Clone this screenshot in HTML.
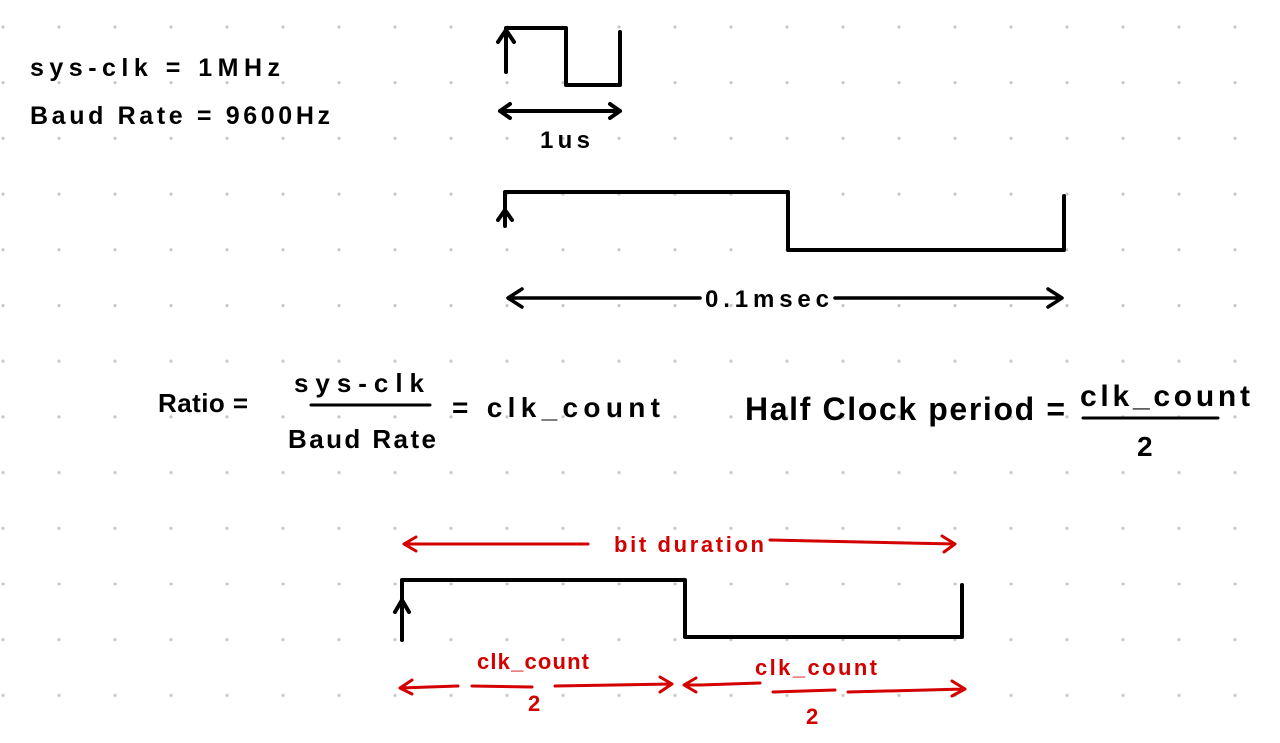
<!DOCTYPE html>
<html><head><style>
html,body{margin:0;padding:0;background:#fff;}
svg{display:block;}
text{font-family:"Liberation Sans",sans-serif;font-weight:bold;}
</style></head><body>
<svg width="1280" height="743" viewBox="0 0 1280 743" xmlns="http://www.w3.org/2000/svg">
<defs>
<pattern id="dots" x="3" y="27" width="56" height="55.7" patternUnits="userSpaceOnUse">
<circle cx="0" cy="0" r="1.6" fill="#c8c8c8"/><circle cx="56" cy="0" r="1.6" fill="#c8c8c8"/><circle cx="0" cy="55.7" r="1.6" fill="#c8c8c8"/><circle cx="56" cy="55.7" r="1.6" fill="#c8c8c8"/>
</pattern>
</defs>
<rect width="1280" height="743" fill="url(#dots)"/>
<g fill="#000" font-size="25">
<text x="30" y="76" textLength="250" lengthAdjust="spacing">sys-clk  =  1MHz</text>
<text x="30" y="124" textLength="300" lengthAdjust="spacing">Baud Rate = 9600Hz</text>
<text x="540" y="148" font-size="24" textLength="50" lengthAdjust="spacing">1us</text>
<text x="705" y="307" font-size="24" textLength="124" lengthAdjust="spacing">0.1msec</text>
<text x="158" y="412" font-size="26" textLength="90" lengthAdjust="spacing">Ratio  =</text>
<text x="294" y="392" font-size="26" textLength="130" lengthAdjust="spacing">sys-clk</text>
<text x="288" y="448" font-size="26" textLength="148" lengthAdjust="spacing">Baud Rate</text>
<text x="452" y="417" font-size="28" textLength="208" lengthAdjust="spacing">=  clk_count</text>
<text x="745" y="420" font-size="32" font-weight="normal" textLength="320" lengthAdjust="spacing">Half Clock period =</text>
<text x="1080" y="406" font-size="30" font-weight="normal" textLength="170" lengthAdjust="spacing">clk_count</text>
<text x="1137" y="456" font-size="28">2</text>
</g>
<g stroke="#000" stroke-width="4" fill="none" stroke-linecap="round" stroke-linejoin="round">
<path d="M506 72 L506 28 L566 28 L566 85 L620 85 L620 32"/>
<path d="M498 42 L506 30 L514 42"/>
<path d="M500 111 L620 111 M510 104 L500 111 L510 118 M610 104 L620 111 L610 118"/>
<path d="M505 226 L505 192 L788 192 L788 250 L1064 250 L1064 196"/>
<path d="M498 220 L505 210 L512 220"/>
<path d="M508 298 L700 298 M835 298 L1062 298 M522 289 L508 298 L522 307 M1048 289 L1062 298 L1048 307" stroke-width="3.5"/>
<path d="M311 405 L430 405 M1083 418 L1218 418" stroke-width="3"/>
<path d="M402 640 L402 580 L685 580 L685 637 L962 637 L962 585"/>
<path d="M395 612 L402 600 L409 612"/>
</g>
<g stroke="#d40000" stroke-width="3" fill="none" stroke-linecap="round" stroke-linejoin="round">
<path d="M404 544 L588 544 M770 540 L955 544 M416 537 L404 544 L416 551 M942 536 L955 544 L944 552"/>
<path d="M400 688 L458 686 M472 686 L532 687 M555 686 L672 684 M412 680 L400 688 L412 694 M660 677 L672 684 L660 692"/>
<path d="M684 685 L702 685 M700 685 L760 683 M773 692 L835 690 M848 692 L965 689 M696 678 L684 685 L696 692 M952 681 L965 689 L952 696"/>
</g>
<g fill="#d40000" font-size="22">
<text x="614" y="552" textLength="150" lengthAdjust="spacing">bit duration</text>
<text x="477" y="669" textLength="112" lengthAdjust="spacing">clk_count</text>
<text x="528" y="711">2</text>
<text x="755" y="675" textLength="122" lengthAdjust="spacing">clk_count</text>
<text x="806" y="724">2</text>
</g>
</svg>
</body></html>
